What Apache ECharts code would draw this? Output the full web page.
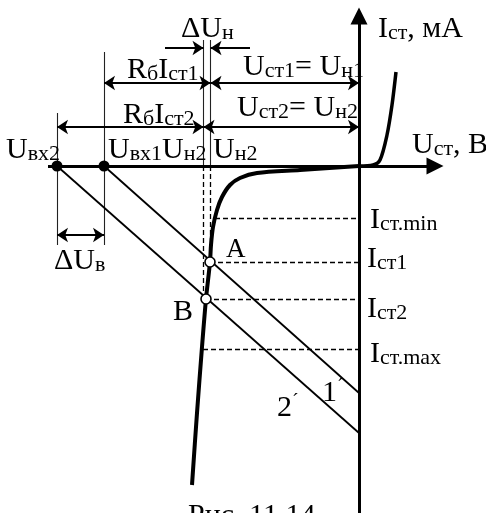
<!DOCTYPE html>
<html><head><meta charset="utf-8">
<script src="https://cdn.jsdelivr.net/npm/echarts@6/dist/echarts.min.js"></script>
<style>html,body{margin:0;padding:0;background:#fff}#c{width:486px;height:513px}</style>
</head><body><div id="c"></div>
<script>
// Schematic coordinates: U (horizontal, 0 at the Iст axis), I (vertical, 0 at the Uст axis)
const reverseBranch = [[0,0],[-59,-4],[-102,-7],[-119,-12],[-129,-19],[-137,-31],[-142,-44],[-146,-61],[-148,-79],[-149,-96],[-153,-133],[-157,-181],[-162,-247],[-167,-319]];
const forwardBranch = [[0,0],[14,1],[21,6],[28,31],[33,61],[37,94]];
const inputVoltages = [-255, -302];          // Uвх1, Uвх2
const loadLineEnds = [-227, -267];           // load lines 1', 2' at U = 0
const workPoints = [[-149,-96],[-153,-133]]; // A, B
const stabVoltages = [-148.5, -155.5];       // Uн1, Uн2
const currentLevels = [-52, -96, -133, -183];      // Iст.min, Iст1, Iст2, Iст.max
const currentLevelStarts = [-144, -149, -153, -156];
const uAxisRange = [-311, 76];
const iAxisRange = [-347, 150];
const stabVoltTop = 126;
const inputVoltTops = [114, 53];
const bracketBottom = -79;
// dimension arrows [u1, i1, u2, i2]
const doubleArrows = [
  [-255, 83, -148.5, 83], [-148.5, 83, 0, 83],
  [-302, 39, -155.5, 39], [-155.5, 39, 0, 39],
  [-302, -69, -255, -69]
];
const singleArrows = [[-194, 118, -155.5, 118], [-109, 118, -148.5, 118]];
const labels = [
  [-178, 137, '{m|ΔU}{s|н}'],
  [-232, 96, '{m|R}{s|б}{m|I}{s|ст1}'],
  [-116, 99, '{m|U}{s|ст1}{m|= U}{s|н1}'],
  [-236, 51, '{m|R}{s|б}{m|I}{s|ст2}'],
  [-122, 58, '{m|U}{s|ст2}{m|= U}{s|н2}'],
  [-353, 16, '{m|U}{s|вх2}'],
  [-251, 16, '{m|U}{s|вх1}{m|U}{s|н2}'],
  [-146, 16, '{m|U}{s|н2}'],
  [19, 137, '{m|I}{s|ст}{m|, мА}'],
  [53, 21, '{m|U}{s|ст}{m|, В}'],
  [11, -54, '{m|I}{s|ст.min}'],
  [8, -93, '{m|I}{s|ст1}'],
  [8, -143, '{m|I}{s|ст2}'],
  [11, -188, '{m|I}{s|ст.max}'],
  [-133, -84, '{a|A}'],
  [-186, -146, '{m|B}'],
  [-305, -95, '{m|ΔU}{s|в}'],
  [-82, -242, '{m|2}{p|´}'],
  [-37, -227, '{m|1}{p|´}'],
  [-171, -350, '{c|Рис. 11.14}']
];

const F = 'Liberation Serif';
const seg = (arr) => arr.map(a => ({coords: [[a[0], a[1]], [a[2], a[3]]]}));
const option = {
  animation: false,
  grid: {left: 0, right: 0, top: 0, bottom: 0},
  xAxis: {type: 'value', min: -359, max: 127, show: false},
  yAxis: {type: 'value', min: -347, max: 166, show: false},
  series: [
    {type: 'lines', coordinateSystem: 'cartesian2d', z: 2, symbol: 'none',
     lineStyle: {color: '#000', width: 1.3, type: [5, 3], opacity: 1},
     data: seg([
       ...currentLevels.map((c, k) => [currentLevelStarts[k], c, 0, c]),
       [stabVoltages[0], 0, stabVoltages[0], workPoints[0][1] + 4],
       [stabVoltages[1], 0, stabVoltages[1], workPoints[1][1] + 4]
     ])},
    {type: 'lines', coordinateSystem: 'cartesian2d', z: 2, symbol: 'none',
     lineStyle: {color: '#222', width: 1.1, opacity: 1},
     data: seg([
       [stabVoltages[0], 0, stabVoltages[0], stabVoltTop],
       [stabVoltages[1], 0, stabVoltages[1], stabVoltTop],
       [inputVoltages[0], inputVoltTops[0], inputVoltages[0], bracketBottom],
       [inputVoltages[1], inputVoltTops[1], inputVoltages[1], bracketBottom]
     ])},
    {type: 'lines', coordinateSystem: 'cartesian2d', z: 3, symbol: 'none',
     lineStyle: {color: '#000', width: 1.8, opacity: 1},
     data: seg([
       [inputVoltages[0], 0, 0, loadLineEnds[0]],
       [inputVoltages[1], 0, 0, loadLineEnds[1]]
     ])},
    {type: 'lines', coordinateSystem: 'cartesian2d', z: 4, symbol: ['none', 'triangle'], symbolSize: 17,
     lineStyle: {color: '#000', width: 3, opacity: 1},
     itemStyle: {color: '#000', opacity: 1},
     data: seg([[uAxisRange[0], 0, uAxisRange[1], 0], [0, iAxisRange[0], 0, iAxisRange[1]]])},
    {type: 'lines', coordinateSystem: 'cartesian2d', z: 4, symbol: ['arrow', 'arrow'], symbolSize: 11,
     lineStyle: {color: '#000', width: 2.2, opacity: 1},
     data: seg(doubleArrows)},
    {type: 'lines', coordinateSystem: 'cartesian2d', z: 4, symbol: ['none', 'arrow'], symbolSize: 11,
     lineStyle: {color: '#000', width: 2.2, opacity: 1},
     data: seg(singleArrows)},
    {type: 'line', z: 5, data: reverseBranch, smooth: 0.3, showSymbol: false,
     lineStyle: {color: '#000', width: 4}},
    {type: 'line', z: 5, data: forwardBranch, smooth: 0.3, showSymbol: false,
     lineStyle: {color: '#000', width: 3.5}},
    {type: 'scatter', z: 6, symbol: 'circle', symbolSize: 11,
     itemStyle: {color: '#000', opacity: 1},
     data: inputVoltages.map(u => [u, 0])},
    {type: 'scatter', z: 6, symbol: 'circle', symbolSize: 10,
     itemStyle: {color: '#fff', borderColor: '#000', borderWidth: 1.6, opacity: 1},
     data: workPoints},
    {type: 'scatter', z: 7, symbolSize: 0, silent: true, clip: false,
     itemStyle: {opacity: 1},
     label: {show: true, position: 'right', distance: 0, opacity: 1,
       formatter: p => p.data.t,
       rich: {
         m: {fontFamily: F, fontSize: 30, lineHeight: 31, color: '#000'},
         s: {fontFamily: F, fontSize: 22, lineHeight: 23, color: '#000', verticalAlign: 'bottom'},
         p: {fontFamily: F, fontSize: 20, lineHeight: 20, color: '#000', verticalAlign: 'top'},
         a: {fontFamily: F, fontSize: 27, lineHeight: 28, color: '#000'},
         c: {fontFamily: F, fontSize: 30, lineHeight: 30, color: '#000'}
       }},
     data: labels.map(l => ({value: [l[0], l[1]], t: l[2]}))}
  ]
};
const chart = echarts.init(document.getElementById('c'), null, {renderer: 'canvas'});
chart.setOption(option);
</script></body></html>
